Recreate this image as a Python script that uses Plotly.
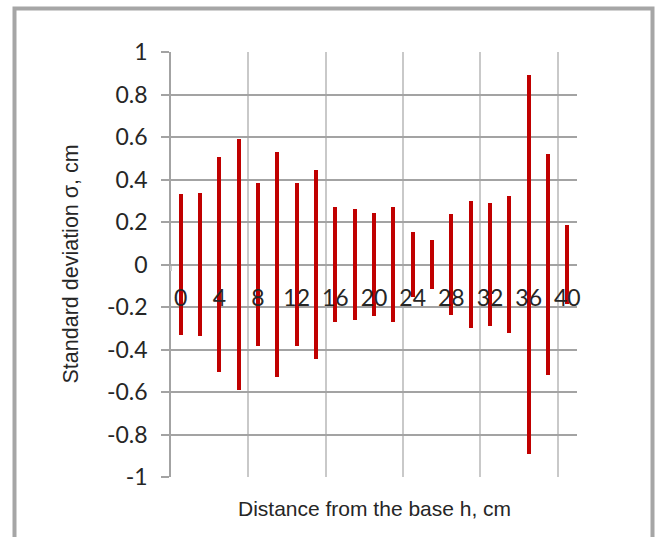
import plotly.graph_objects as go

# Distance from the base h, cm (categories)
distance_h = [0, 2, 4, 6, 8, 10, 12, 14, 16, 18, 20, 22, 24, 26, 28, 30, 32, 34, 36, 38, 40]
# Standard deviation sigma, cm (bars span -sigma .. +sigma)
sigma = [0.330, 0.336, 0.506, 0.592, 0.383, 0.528, 0.383, 0.446, 0.272, 0.262, 0.242,
         0.272, 0.152, 0.115, 0.237, 0.297, 0.289, 0.324, 0.890, 0.519, 0.187]
# Axis tick labels
x_tick_labels = [0, 4, 8, 12, 16, 20, 24, 28, 32, 36, 40]
y_tick_vals = [1, 0.8, 0.6, 0.4, 0.2, 0, -0.2, -0.4, -0.6, -0.8, -1]
y_tick_text = ["1", "0.8", "0.6", "0.4", "0.2", "0", "-0.2", "-0.4", "-0.6", "-0.8", "-1"]

x_title = "Distance from the base h, cm"
y_title = "Standard deviation σ, cm"

RED = "#c00000"
GRID_DARK = "#a3a3a3"
GRID_LIGHT = "#c9c9c9"
TEXT = "#262626"

W, H = 656, 537
L, R, T, B = 171, 79, 52, 60
PW, PH = W - L - R, H - T - B


def px_x(sx):
    return (sx - L) / PW


def px_y(sy):
    return (H - B - sy) / PH


fig = go.Figure()
fig.add_trace(go.Bar(
    x=distance_h,
    y=[2 * s for s in sigma],
    base=[-s for s in sigma],
    width=0.42,
    marker=dict(color=RED, line=dict(width=0)),
    showlegend=False,
    hoverinfo="skip",
))

# category boundaries every 4 categories for vertical gridlines
step = distance_h[1] - distance_h[0]
boundaries = [distance_h[0] - step / 2 + i * 4 * step for i in range(6)]

fig.update_layout(
    width=W, height=H,
    margin=dict(l=L, r=R, t=T, b=B),
    paper_bgcolor="white",
    plot_bgcolor="white",
    bargap=0,
    xaxis=dict(
        range=[distance_h[0] - step / 2, distance_h[-1] + step / 2],
        tickvals=x_tick_labels,
        ticktext=[str(v) for v in x_tick_labels],
        showgrid=False,
        zeroline=False,
        showline=False,
        ticks="",
        anchor="free",
        position=0.5,
        ticklabelstandoff=17,
        tickfont=dict(family="Lato", size=23, color=TEXT),
        minor=dict(
            tickvals=boundaries,
            showgrid=True,
            gridcolor=GRID_LIGHT,
            gridwidth=1.5,
            ticks="outside",
            ticklen=5,
            tickcolor=GRID_LIGHT,
            tickwidth=1.5,
        ),
    ),
    yaxis=dict(
        range=[-1, 1],
        tickvals=y_tick_vals,
        ticktext=y_tick_text,
        showgrid=True,
        gridcolor=GRID_DARK,
        gridwidth=1.5,
        zeroline=True,
        zerolinecolor=GRID_DARK,
        zerolinewidth=1.5,
        showline=True,
        linecolor=GRID_DARK,
        linewidth=1.5,
        ticks="outside",
        ticklen=8,
        tickcolor=GRID_DARK,
        tickwidth=1.5,
        ticklabelstandoff=9,
        tickfont=dict(family="Lato", size=23, color=TEXT),
    ),
    annotations=[
        dict(text=x_title, xref="paper", yref="paper", x=0.5, y=px_y(508),
             xanchor="center", yanchor="middle", showarrow=False,
             font=dict(family="Liberation Sans, Arial", size=21, color=TEXT)),
        dict(text=y_title, xref="paper", yref="paper", x=px_x(70), y=0.5,
             xanchor="center", yanchor="middle", showarrow=False, textangle=-90,
             font=dict(family="Liberation Sans, Arial", size=21.5, color=TEXT)),
    ],
    shapes=[
        dict(type="rect", xref="paper", yref="paper",
             x0=px_x(14.5), x1=px_x(652.5),
             y0=px_y(600), y1=px_y(8.5),
             line=dict(color="#a6a6a6", width=4), fillcolor="rgba(0,0,0,0)", layer="below"),
    ],
)

fig.write_html(
    "out.html",
    config={"displayModeBar": False},
    post_script="document.body.style.margin='0';document.body.style.overflow='hidden';",
)
